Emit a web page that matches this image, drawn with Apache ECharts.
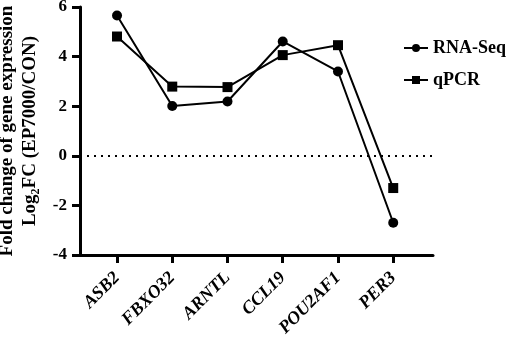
<!DOCTYPE html>
<html>
<head>
<meta charset="utf-8">
<script src="https://cdn.jsdelivr.net/npm/echarts@6/dist/echarts.min.js"></script>
<style>
  html, body { margin: 0; padding: 0; background: #fff; }
  #chart { width: 510px; height: 343px; }
</style>
</head>
<body>
<div id="chart"></div>
<script>
// genes along the x axis
const genes = ['ASB2', 'FBXO32', 'ARNTL', 'CCL19', 'POU2AF1', 'PER3'];
// log2 fold change
const rnaSeq = [5.66, 2.01, 2.19, 4.61, 3.40, -2.70];
const qpcr = [4.81, 2.79, 2.77, 4.06, 4.46, -1.30];
const yTicks = [-4, -2, 0, 2, 4, 6];

const serif = '"Liberation Serif", "DejaVu Serif", serif';
const chart = echarts.init(document.getElementById('chart'));

const toPoints = (vals) => vals.map((v, i) => [i, v]);
const positions = genes.map((g, i) => i);

const option = {
  animation: false,
  grid: { left: 80, right: 77, top: 7, bottom: 88, containLabel: false, outerBoundsMode: 'none' },
  legend: {
    orient: 'vertical',
    left: 398,
    top: 34,
    itemWidth: 24,
    itemHeight: 10,
    itemGap: 14,
    textStyle: { fontFamily: serif, fontWeight: 'bold', fontSize: 18, color: '#000' },
    data: ['RNA-Seq', 'qPCR']
  },
  xAxis: {
    type: 'value',
    min: -0.67,
    max: 5.72,
    splitLine: { show: false },
    axisLine: { onZero: false, lineStyle: { color: '#000', width: 3 } },
    axisTick: {
      show: true,
      customValues: positions,
      length: 8,
      lineStyle: { color: '#000', width: 3 }
    },
    axisLabel: {
      customValues: positions,
      rotate: 45,
      margin: 20,
      fontFamily: serif,
      fontWeight: 'bold',
      fontStyle: 'italic',
      fontSize: 18,
      color: '#000',
      formatter: (v) => genes[Math.round(v)]
    }
  },
  yAxis: {
    type: 'value',
    min: -4,
    max: 6,
    interval: 2,
    splitLine: { show: false },
    axisLine: { show: true, onZero: false, lineStyle: { color: '#000', width: 3 } },
    axisTick: { show: true, length: 8, lineStyle: { color: '#000', width: 3 } },
    axisLabel: {
      margin: 13,
      fontFamily: serif,
      fontWeight: 'bold',
      fontSize: 17,
      color: '#000',
      formatter: (v) => (yTicks.includes(v) ? String(v) : '')
    },
    name: '{t|Fold change of gene expression}\n{t|Log}{s|2}{t|FC (EP7000/CON)}',
    nameLocation: 'middle',
    nameRotate: 90,
    nameGap: 29,
    nameTextStyle: {
      lineHeight: 23,
      rich: {
        t: { fontFamily: serif, fontWeight: 'bold', fontSize: 19, color: '#000', lineHeight: 23 },
        s: { fontFamily: serif, fontWeight: 'bold', fontSize: 12, color: '#000', verticalAlign: 'bottom', lineHeight: 23, padding: [8, 0, 0, 0] }
      }
    }
  },
  series: [
    {
      name: 'RNA-Seq',
      type: 'line',
      data: toPoints(rnaSeq),
      symbol: 'circle',
      symbolSize: 10,
      lineStyle: { color: '#000', width: 2 },
      itemStyle: { color: '#000' },
      markLine: {
        silent: true,
        symbol: 'none',
        label: { show: false },
        lineStyle: { color: '#000', width: 2, type: [2, 5] },
        data: [{ yAxis: 0 }]
      }
    },
    {
      name: 'qPCR',
      type: 'line',
      data: toPoints(qpcr),
      symbol: 'rect',
      symbolSize: 10,
      lineStyle: { color: '#000', width: 2 },
      itemStyle: { color: '#000' }
    }
  ]
};

chart.setOption(option);
</script>
</body>
</html>
